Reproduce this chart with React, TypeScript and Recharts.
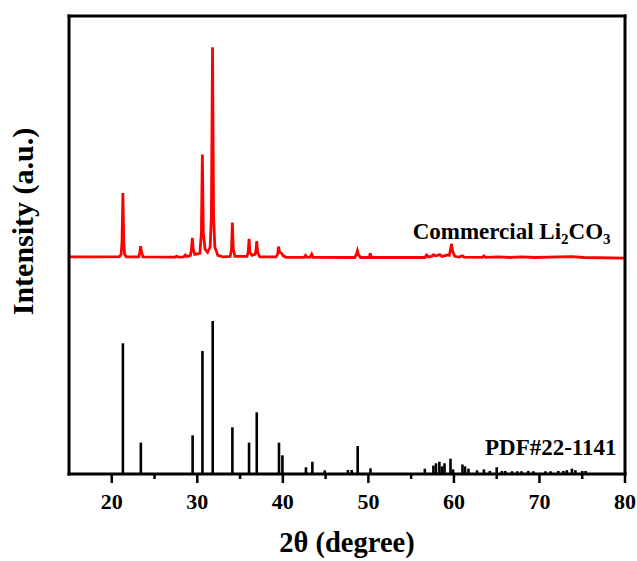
import React from 'react';
import {
  ComposedChart,
  Line,
  XAxis,
  YAxis,
  ReferenceLine,
} from 'recharts';

// measured Commercial Li2CO3 pattern: [2theta, relative intensity %]
const commercialPattern: [number, number][] = [
  [15, 0.3], [19.0, 0.3], [20.9, 0.4], [21.1, 1.5], [21.2, 8], [21.3, 30.6], [21.4, 8], [21.5, 1.5], [21.7, 0.3],
  [23.15, 0.3], [23.28, 2.5], [23.38, 5.4], [23.48, 2.5], [23.65, 0.3],
  [27.4, 0.2], [27.6, 0.6], [27.8, 0.2],
  [28.4, 0.3], [28.6, 1.2], [28.8, 0.4],
  [29.2, 1.0], [29.32, 4], [29.42, 9.4], [29.52, 4], [29.7, 1.5],
  [30.3, 2], [30.48, 12], [30.59, 49], [30.7, 12], [30.9, 4],
  [31.2, 2.5], [31.5, 5], [31.65, 20], [31.78, 100], [31.9, 20], [32.05, 5], [32.4, 1], [33.0, 0.3],
  [33.85, 0.5], [34.0, 4], [34.1, 16.6], [34.2, 4], [34.4, 0.5],
  [35.8, 0.5], [35.95, 2.5], [36.05, 8.9], [36.15, 2.5], [36.4, 1],
  [36.75, 1.5], [36.85, 3], [36.95, 7.8], [37.05, 2.5], [37.3, 0.3],
  [39.2, 0.3], [39.38, 1.5], [39.5, 5.2], [39.62, 2.5], [39.85, 2], [40.05, 0.8], [40.4, 0.1],
  [42.5, 0.1], [42.65, 1.0], [42.8, 0.2], [43.2, 0.2], [43.38, 1.6], [43.55, 0.1],
  [48.4, 0], [48.6, 1.5], [48.72, 3.2], [48.85, 1.2], [49.1, 0],
  [50.1, 0], [50.22, 2.0], [50.35, 0],
  [56.6, 0], [56.8, 1.2], [57.0, 0.3], [57.4, 0.6], [57.6, 1.3], [57.8, 0.8], [58.1, 1.0],
  [58.35, 1.4], [58.6, 0.5], [59.0, 0.9], [59.2, 1.2], [59.45, 1.0], [59.6, 3.5], [59.72, 6.5],
  [59.85, 3], [60.1, 0.6], [60.6, 0.2], [61.0, 0.8], [61.2, 0.2],
  [63.3, 0.1], [63.5, 0.7], [63.7, 0.1], [65.2, 0.3], [66.5, 0], [67.9, 0.3], [69.5, 0],
  [72.3, 0.3], [73.8, 0.4], [75.2, 0], [80, -0.3],
];

// PDF#22-1141 reference lines
const pdfAngles = [
  21.3, 23.4, 29.45, 30.6, 31.8, 34.1, 36.05, 36.95, 39.55, 39.95,
  42.7, 43.45, 44.9, 47.6, 48.05, 48.75, 50.25, 56.6, 57.6, 57.9,
  58.3, 58.6, 58.9, 59.6, 59.9, 61.0, 61.3, 61.7, 62.7, 63.5,
  64.2, 65.0, 65.6, 66.0, 66.8, 67.4, 67.9, 68.7, 69.3, 70.7,
  71.3, 72.2, 72.8, 73.2, 73.8, 74.2, 75.0, 75.4,
];
const pdfIntensities = [
  85.4, 20.5, 25.3, 80.4, 100, 30.5, 20.5, 40.3, 20.5, 12.2,
  4.4, 8, 2.4, 2.6, 2.6, 18.3, 3.7, 3.5, 5.5, 7,
  8, 5, 7, 10, 3, 6.2, 5, 3.5, 2.4, 3,
  2, 4.4, 2, 2, 1.8, 1.8, 1.8, 2, 1.8, 1.8,
  1.8, 2, 2, 2.5, 3.5, 2.5, 2, 2,
];

const majorTicks = [20, 30, 40, 50, 60, 70, 80];
const minorTicks = [25, 35, 45, 55, 65, 75];

const font = '"Liberation Serif", "Times New Roman", serif';

const chartData = commercialPattern.map(([t, i]) => ({ t, i }));
const allTicks = [...majorTicks, ...minorTicks].sort((a, b) => a - b);

function XTick(props: any) {
  const { x, y, payload } = props;
  const major = majorTicks.includes(payload.value);
  return (
    <g>
      <line x1={x} x2={x} y1={y} y2={y + (major ? 9 : 5)} stroke="#000" strokeWidth={2.5} />
      {major && (
        <text x={x} y={y + 35} textAnchor="middle" fontSize={22} fontWeight="bold" fontFamily={font} fill="#000">
          {payload.value}
        </text>
      )}
    </g>
  );
}

const frame = { stroke: '#000', strokeWidth: 3, strokeLinecap: 'square' as const };

export default function App() {
  return (
    <div style={{ position: 'absolute', left: 0, top: 0, width: 637, height: 561, background: '#fff' }}>
      <ComposedChart
        width={637}
        height={561}
        data={chartData}
        margin={{ top: 15, right: 11, bottom: 47, left: 68 }}
      >
        <XAxis
          xAxisId="x"
          dataKey="t"
          type="number"
          domain={[15, 80]}
          ticks={allTicks}
          interval={0}
          allowDataOverflow
          height={40}
          tickSize={0}
          tickMargin={0}
          tickLine={false}
          tick={<XTick />}
          axisLine={frame}
        />
        <XAxis
          xAxisId="top"
          orientation="top"
          type="number"
          domain={[15, 80]}
          height={1}
          tick={false}
          tickLine={false}
          axisLine={frame}
        />
        <YAxis
          yAxisId="xrd"
          type="number"
          domain={[-102.9, 114.8]}
          allowDataOverflow
          width={1}
          tick={false}
          tickLine={false}
          axisLine={frame}
        />
        <YAxis
          yAxisId="pdf"
          orientation="right"
          type="number"
          domain={[0, 299.3]}
          allowDataOverflow
          width={1}
          tick={false}
          tickLine={false}
          axisLine={frame}
        />
        <Line
          xAxisId="x"
          yAxisId="xrd"
          type="linear"
          dataKey="i"
          stroke="#ff0000"
          strokeWidth={2.8}
          dot={false}
          isAnimationActive={false}
        />
        {pdfAngles.map((t, k) => (
          <ReferenceLine
            key={k}
            xAxisId="x"
            yAxisId="pdf"
            segment={[{ x: t, y: 0 }, { x: t, y: pdfIntensities[k] }]}
            stroke="#000"
            strokeWidth={2.6}
          />
        ))}
      </ComposedChart>
      <svg
        width={637}
        height={561}
        style={{ position: 'absolute', left: 0, top: 0, pointerEvents: 'none' }}
        fontFamily={font}
        fontWeight="bold"
        fill="#000"
      >
        <text transform="translate(33.3, 221.5) rotate(-90)" textAnchor="middle" fontSize={30}>
          Intensity (a.u.)
        </text>
        <text x={347} y={552} textAnchor="middle" fontSize={28.5}>
          2θ (degree)
        </text>
        <text x={412.7} y={239.3} fontSize={23}>
          Commercial Li
          <tspan fontSize={15} dy={5}>2</tspan>
          <tspan dy={-5}>CO</tspan>
          <tspan fontSize={15} dy={5}>3</tspan>
        </text>
        <text x={485} y={455} fontSize={23}>
          PDF#22-1141
        </text>
      </svg>
    </div>
  );
}
